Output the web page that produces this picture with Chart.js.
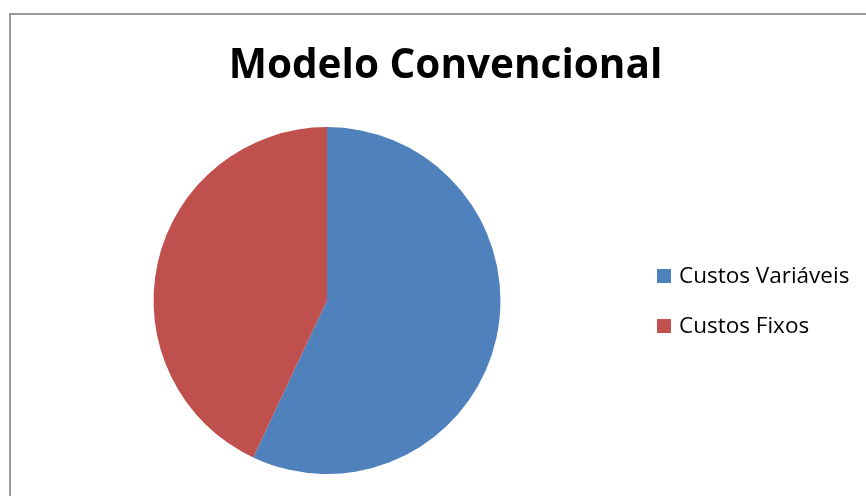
<!DOCTYPE html>
<html>
<head>
<meta charset="utf-8">
<script src="https://cdn.jsdelivr.net/npm/chart.js@4.4.1/dist/chart.umd.min.js"></script>
<style>
  html, body { margin: 0; padding: 0; background: #fff; overflow: hidden; }
  body { width: 866px; height: 496px; position: relative; }
  #frame {
    position: absolute; left: 9px; top: 13px;
    width: 869px; height: 481px;
    border: 2px solid #999;
    background: #fff;
  }
  #chart { display: block; }
</style>
</head>
<body>
<div id="frame"><canvas id="chart" width="869" height="481"></canvas></div>
<script>
// Cost split of the conventional model
const titleText = 'Modelo Convencional';
const categories = ['Custos Variáveis', 'Custos Fixos'];
const shares = [57, 43];
const sliceColors = ['#4F81BD', '#C0504D'];

const FONT = '"Open Sans", Lato, sans-serif';

// Legend reserved as a layout box on the right; the title still spans the full width
const sideLegend = {
  id: 'sideLegend',
  beforeInit(chart) {
    const box = {
      position: 'right',
      weight: 1000,
      fullSize: false,
      options: {},
      isHorizontal() { return false; },
      update(maxWidth, maxHeight) { this.width = 237; this.height = maxHeight; },
      getPadding() { return { left: 0, right: 0, top: 0, bottom: 0 }; },
      draw() {
        const ctx = chart.ctx;
        const ds = chart.data.datasets[0];
        const boxX = this.left + 14, textX = this.left + 36;
        const rowTop = 261, rowGap = 50, size = 14;
        ctx.save();
        ctx.font = '22.5px ' + FONT;
        ctx.textBaseline = 'middle';
        ctx.textAlign = 'left';
        chart.data.labels.forEach((label, i) => {
          const y = rowTop + i * rowGap;
          ctx.fillStyle = ds.backgroundColor[i];
          ctx.fillRect(boxX, y - size / 2, size, size);
          ctx.fillStyle = '#000';
          ctx.fillText(label, textX, y + 1);
        });
        ctx.restore();
      }
    };
    Chart.layouts.addBox(chart, box);
  }
};

new Chart(document.getElementById('chart'), {
  type: 'pie',
  data: {
    labels: categories,
    datasets: [{
      data: shares,
      backgroundColor: sliceColors,
      borderWidth: 0
    }]
  },
  options: {
    responsive: false,
    animation: false,
    layout: { padding: { left: 0, right: 0, top: 0, bottom: 22 } },
    plugins: {
      legend: { display: false },
      tooltip: { enabled: false },
      title: {
        display: true,
        text: titleText,
        color: '#000',
        font: { family: FONT, size: 40.5, weight: 'bold', lineHeight: 1.2 },
        padding: { top: 27.5, bottom: 36 }
      }
    }
  },
  plugins: [sideLegend]
});
</script>
</body>
</html>
